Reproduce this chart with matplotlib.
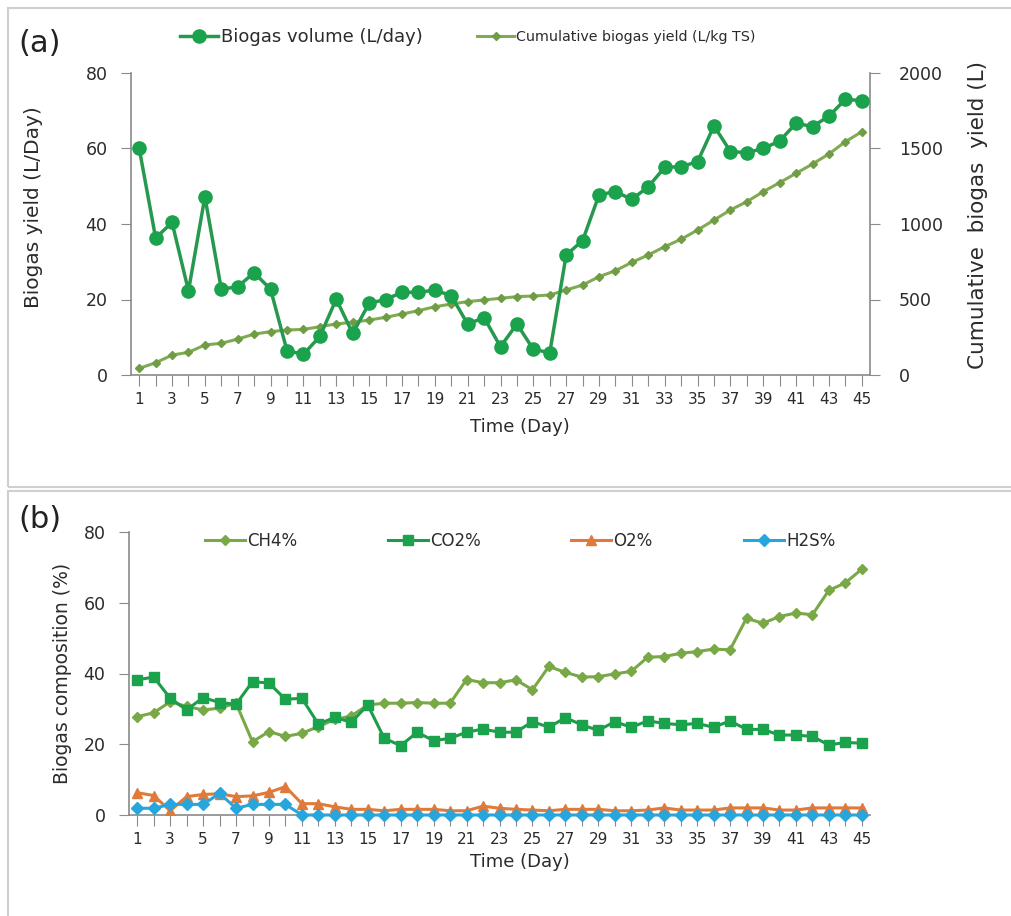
import numpy as np
import matplotlib
matplotlib.use("Agg")
import matplotlib.pyplot as plt
from matplotlib.patches import Rectangle

plt.rcParams['font.family'] = ['DejaVu Sans']

# Datos del experimento (45 dias)
dias = list(range(1, 46))

volumen_biogas = [60, 36.3, 40.4, 22.3, 47.2, 22.7, 23.4, 27.1, 22.7, 6.4,
                  5.5, 10.2, 20.1, 11.0, 19.0, 20.0, 21.9, 21.9, 22.5, 21.0,
                  13.5, 15.2, 7.5, 13.5, 6.8, 5.9, 31.8, 35.6, 47.7, 48.6,
                  46.5, 49.9, 55.0, 55.2, 56.5, 66.0, 59.2, 58.9, 60.0, 62.0,
                  66.7, 65.8, 68.6, 73.0, 72.7]
acumulado = [44, 81, 132, 150, 199, 210, 238, 271, 287, 298,
             302, 320, 338, 349, 364, 382, 404, 426, 452, 470,
             486, 497, 508, 519, 523, 530, 563, 596, 651, 691,
             746, 795, 850, 899, 960, 1026, 1093, 1148, 1214, 1274,
             1336, 1397, 1464, 1545, 1611]

ch4 = [27.8, 28.9, 32.0, 30.7, 29.7, 30.2, 31.6, 20.7, 23.6, 22.2,
       23.1, 25.0, 27.0, 28.0, 31.1, 31.6, 31.6, 31.8, 31.6, 31.6,
       38.3, 37.4, 37.4, 38.2, 35.4, 42.0, 40.3, 39.0, 39.1, 39.9,
       40.6, 44.6, 44.8, 45.7, 46.2, 46.9, 46.7, 55.6, 54.2, 56.1,
       57.1, 56.6, 63.5, 65.6, 69.5]
co2 = [38.2, 39.0, 33.0, 29.7, 33.2, 31.8, 31.3, 37.7, 37.3, 32.7,
       33.0, 25.7, 27.6, 26.2, 31.1, 21.7, 19.6, 23.4, 21.0, 21.7,
       23.4, 24.3, 23.4, 23.4, 26.4, 24.8, 27.5, 25.5, 23.9, 26.4,
       24.8, 26.6, 25.9, 25.5, 25.9, 24.8, 26.6, 24.2, 24.2, 22.6,
       22.6, 22.2, 19.8, 20.5, 20.3]
o2 = [6.3, 5.5, 1.2, 5.2, 5.8, 6.0, 5.2, 5.4, 6.4, 8.0,
      3.2, 3.2, 2.3, 1.6, 1.6, 1.2, 1.6, 1.6, 1.6, 1.2,
      1.2, 2.5, 1.9, 1.6, 1.4, 1.2, 1.6, 1.6, 1.6, 1.2,
      1.2, 1.4, 2.0, 1.4, 1.4, 1.4, 2.0, 2.0, 2.0, 1.4,
      1.4, 2.0, 2.0, 2.0, 2.0]
h2s = [1.9, 1.9, 3.0, 3.0, 3.0, 6.1, 1.9, 3.0, 3.0, 3.0,
       0, 0, 0, 0, 0, 0, 0, 0, 0, 0,
       0, 0, 0, 0, 0, 0, 0, 0, 0, 0,
       0, 0, 0, 0, 0, 0, 0, 0, 0, 0,
       0, 0, 0, 0, 0]

etiquetas_x = [str(d) if d % 2 == 1 else "" for d in dias]

gris = "#8a8a8a"
texto = "#2b2b2b"
W, H = 1011, 916


def fx(px):
    return px / W


def fy(py):
    return 1 - py / H


def ejes_base(ax):
    # Estilo comun de los dos paneles (tipo Excel)
    ax.set_xlim(0.5, 45.5)
    ax.set_ylim(0, 80)
    ax.set_yticks([0, 20, 40, 60, 80])
    ax.set_xticks(dias)
    ax.set_xticklabels(etiquetas_x)
    ax.spines["top"].set_visible(False)
    ax.spines["right"].set_visible(False)
    for s in ("left", "bottom"):
        ax.spines[s].set_color(gris)
        ax.spines[s].set_linewidth(1.2)
    ax.tick_params(axis="x", direction="out", length=8, color=gris,
                   labelsize=11, labelcolor=texto, pad=4)
    ax.tick_params(axis="y", direction="out", length=7, color=gris,
                   labelsize=12.5, labelcolor=texto, pad=10)


def leyenda(linea, x, y, size, hl):
    # Cada entrada se ubica por separado, con el trazo empezando en x
    fig.legend(handles=[linea], loc="center left", bbox_to_anchor=(fx(x), fy(y)),
               bbox_transform=fig.transFigure, frameon=False, fontsize=size,
               handlelength=hl, handletextpad=0.15, borderpad=0,
               borderaxespad=0, labelcolor=texto)


fig = plt.figure(figsize=(10.11, 9.16), dpi=100)

# Marcos de cada panel
fig.patches.append(Rectangle((fx(8), fy(487)), 1.0, 479 / H,
                             transform=fig.transFigure, fill=False,
                             edgecolor="#cfcfcf", linewidth=1.5))
fig.patches.append(Rectangle((fx(8), -0.01), 1.0, 1 - 491 / H + 0.01,
                             transform=fig.transFigure, fill=False,
                             edgecolor="#cfcfcf", linewidth=1.5))

## Panel (a): volumen diario y acumulado
ax1 = fig.add_axes([fx(131), fy(375), 739 / W, 302 / H])
ejes_base(ax1)
l1, = ax1.plot(dias, volumen_biogas, color="#27994f", linewidth=2.5,
               marker="o", markersize=9.5, markerfacecolor="#1aa24c",
               markeredgecolor="#1aa24c", label="Biogas volume (L/day)", zorder=3)

ax1b = ax1.twinx()
ax1b.set_ylim(0, 2000)
ax1b.set_yticks([0, 500, 1000, 1500, 2000])
ax1b.set_xlim(0.5, 45.5)
for s in ("top", "left", "bottom"):
    ax1b.spines[s].set_visible(False)
ax1b.spines["right"].set_color(gris)
ax1b.spines["right"].set_linewidth(1.2)
ax1b.tick_params(axis="y", direction="out", length=7, color=gris,
                 labelsize=12.5, labelcolor=texto, pad=14)
l2, = ax1b.plot(dias, acumulado, color="#80ab52", linewidth=2.2,
                marker="D", markersize=4.5, markerfacecolor="#6f9c44",
                markeredgecolor="#6f9c44", label="Cumulative biogas yield (L/kg TS)",
                zorder=2)
ax1.set_zorder(ax1b.get_zorder() + 1)
ax1.patch.set_visible(False)

fig.text(fx(34), fy(207), "Biogas yield (L/Day)", rotation=90,
         ha="center", va="center", fontsize=14.5, color=texto)
fig.text(fx(978), fy(215), "Cumulative  biogas  yield (L)", rotation=90,
         ha="center", va="center", fontsize=15.5, color=texto)
fig.text(fx(520), fy(427), "Time (Day)", ha="center", va="center",
         fontsize=13, color=texto)
fig.text(fx(18), fy(44), "(a)", ha="left", va="center",
         fontsize=22, color="#222222")

leyenda(l1, 180, 37, 13, 2.1)
leyenda(l2, 477, 37, 10.3, 2.6)

## Panel (b): composicion del biogas
ax2 = fig.add_axes([fx(129), fy(815), 741 / W, 283 / H])
ejes_base(ax2)
c1, = ax2.plot(dias, ch4, color="#79a846", linewidth=2.2, marker="D",
               markersize=5, label="CH4%", zorder=3)
c2, = ax2.plot(dias, co2, color="#1e9b4a", linewidth=2.2, marker="s",
               markersize=7.5, markerfacecolor="#1aa24c", markeredgecolor="#1aa24c",
               label="CO2%", zorder=3)
c3, = ax2.plot(dias, o2, color="#e07a3a", linewidth=2.2, marker="^",
               markersize=6.5, label="O2%", zorder=3)
c4, = ax2.plot(dias, h2s, color="#27a6de", linewidth=2.2, marker="D",
               markersize=6.5, label="H2S%", zorder=4, clip_on=False)

fig.text(fx(62), fy(673), "Biogas composition (%)", rotation=90,
         ha="center", va="center", fontsize=13.5, color=texto)
fig.text(fx(520), fy(862), "Time (Day)", ha="center", va="center",
         fontsize=13, color=texto)
fig.text(fx(18), fy(520), "(b)", ha="left", va="center",
         fontsize=22, color="#222222")

for linea, x0 in zip([c1, c2, c3, c4], [205, 388, 571, 744]):
    leyenda(linea, x0, 541, 12, 2.4)

fig.savefig("out.png", dpi=100, facecolor="white")
